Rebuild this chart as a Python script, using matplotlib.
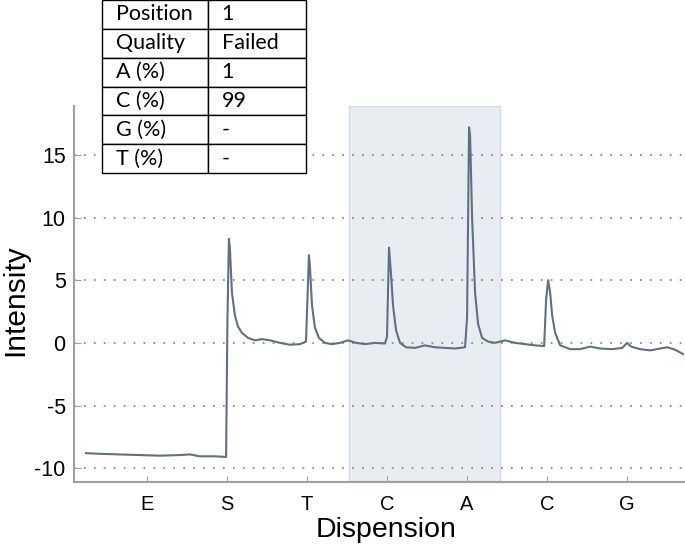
import matplotlib.pyplot as plt

plt.rcParams["font.family"] = ["Liberation Sans", "DejaVu Sans"]
plt.rcParams["axes.unicode_minus"] = False

# dispension order on the x axis
dispensions = ["E", "S", "T", "C", "A", "C", "G"]
tick_pos = [1, 2, 3, 4, 5, 6, 7]

# pyrogram trace (x in dispension units, intensity)
trace_x = [0.24, 0.41, 0.66, 0.91, 1.16, 1.41, 1.54, 1.66, 1.85, 1.99,
           2.006, 2.025, 2.038, 2.063, 2.10, 2.138, 2.188, 2.263, 2.35, 2.438,
           2.538, 2.663, 2.788, 2.913, 2.988, 3.025, 3.038, 3.063, 3.10, 3.15,
           3.225, 3.313, 3.413, 3.513, 3.613, 3.725, 3.85, 3.975, 4.0, 4.025,
           4.05, 4.075, 4.113, 4.163, 4.238, 4.35, 4.475, 4.60, 4.725, 4.85,
           4.975, 5.0, 5.025, 5.038, 5.063, 5.10, 5.138, 5.188, 5.263, 5.35,
           5.475, 5.60, 5.725, 5.85, 5.963, 5.988, 6.013, 6.038, 6.063, 6.10,
           6.163, 6.288, 6.413, 6.538, 6.663, 6.813, 6.938, 7.0, 7.05, 7.163,
           7.288, 7.413, 7.50, 7.60, 7.70]
trace_y = [-8.8, -8.85, -8.9, -8.95, -9.0, -8.95, -8.9, -9.05, -9.05, -9.1,
           1.5, 8.3, 7.5, 4.0, 2.2, 1.3, 0.8, 0.4, 0.2, 0.3,
           0.2, 0.0, -0.15, -0.1, 0.1, 7.0, 6.0, 3.0, 1.2, 0.4,
           0.0, -0.1, 0.0, 0.2, 0.0, -0.1, 0.0, -0.05, 0.5, 7.6,
           5.5, 3.0, 1.0, 0.0, -0.35, -0.4, -0.2, -0.35, -0.4, -0.45,
           -0.35, 2.0, 17.2, 16.5, 10.0, 4.0, 1.5, 0.4, 0.1, 0.0,
           0.2, 0.0, -0.1, -0.2, -0.25, 3.5, 5.0, 4.0, 2.2, 0.8,
           -0.2, -0.5, -0.5, -0.3, -0.45, -0.5, -0.4, 0.0, -0.3, -0.5,
           -0.6, -0.45, -0.35, -0.55, -0.9]

# summary table
table_rows = [["Position", "1"], ["Quality", "Failed"], ["A (%)", "1"],
              ["C (%)", "99"], ["G (%)", "-"], ["T (%)", "-"]]

fig = plt.figure(figsize=(6.85, 5.49), dpi=100)
ax = fig.add_axes([74/685, 1 - 482/549, 610/685, 376/549])

ax.axvspan(3.52, 5.41, color="#e8edf2", ec="#d5d9de", lw=1, zorder=0)
for yv in [-10, -5, 0, 5, 10, 15]:
    ax.axhline(yv, color="#8c8c8c", lw=1.3, ls=(0, (1, 4.5)), zorder=1)

ax.plot(trace_x, trace_y, color="#5f6f84", lw=1.5, zorder=3)

ax.set_xlim(0.09, 7.71)
ax.set_ylim(-11.1, 18.9)
ax.set_yticks([-10, -5, 0, 5, 10, 15])
ax.set_xticks(tick_pos)
ax.set_xticklabels(dispensions)

for s in ["top", "right"]:
    ax.spines[s].set_visible(False)
for s in ["left", "bottom"]:
    ax.spines[s].set_color("#a0a0a0")
    ax.spines[s].set_linewidth(1.5)

ax.tick_params(axis="y", direction="in", length=5, color="#a0a0a0",
               labelsize=15.5, pad=6)
ax.tick_params(axis="x", direction="in", length=4, color="#a0a0a0",
               labelsize=14.5, pad=9)

ax.set_xlabel("Dispension", fontsize=20.5)
ax.xaxis.set_label_coords(0.511, -0.093)
ax.set_ylabel("Intensity", fontsize=21.5)
ax.yaxis.set_label_coords(-0.074, 0.484)

tab = ax.table(cellText=table_rows, cellLoc="left", colWidths=[0.52, 0.48],
               bbox=[28/610, (482-173)/376, 204/610, 173/376])
tab.auto_set_font_size(False)
for (r, c), cell in tab.get_celld().items():
    cell.set_edgecolor("black")
    cell.set_linewidth(1.0)
    cell.set_facecolor("white")
    cell.get_text().set_fontsize(15.5)
    cell.get_text().set_fontfamily("Lato")
    cell.PAD = 0.13 if c == 0 else 0.14
tab.set_zorder(5)
tab.set_clip_on(False)

fig.savefig("out.png", dpi=100)
